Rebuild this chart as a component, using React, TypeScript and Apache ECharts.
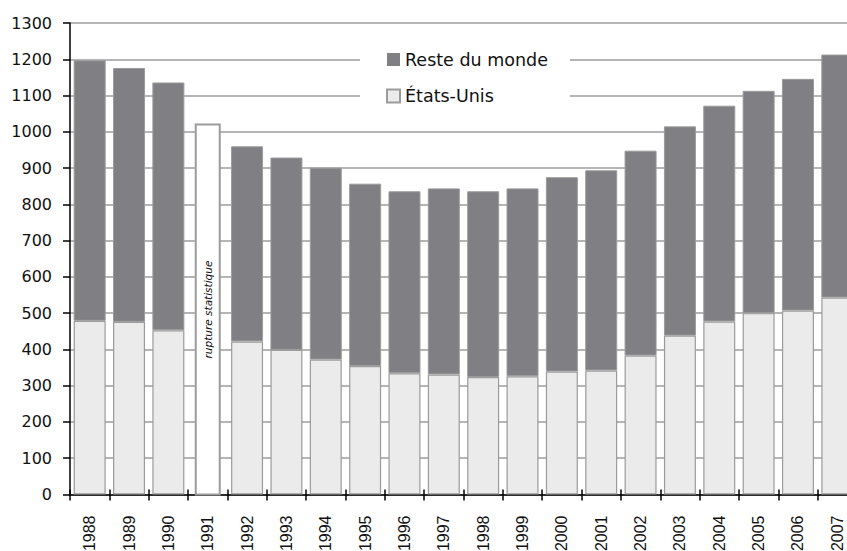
import React, { useEffect, useRef } from "react";
import * as echarts from "echarts";

const years = ["1988", "1989", "1990", "1991", "1992", "1993", "1994", "1995", "1996", "1997", "1998", "1999", "2000", "2001", "2002", "2003", "2004", "2005", "2006", "2007"];
const etatsUnis = [479, 476, 453, null, 422, 399, 372, 354, 334, 331, 324, 326, 339, 342, 383, 438, 477, 500, 507, 543];
const resteDuMonde = [718, 700, 683, null, 538, 530, 529, 503, 502, 513, 512, 518, 536, 552, 565, 577, 595, 613, 639, 670];
const ruptureYear = "1991";
const ruptureValue = 1020;
const ruptureLabel = "rupture statistique";
const seriesNames = ["Reste du monde", "États-Unis"];
const yMin = 0;
const yMax = 1300;
const yStep = 100;

export default function App() {
  const ref = useRef<HTMLDivElement>(null);
  useEffect(() => {
    const chart = echarts.init(ref.current!, null, { renderer: "svg" });
    const border = "#9b9b9b";
    chart.setOption({
      animation: false,
      backgroundColor: "#ffffff",
      grid: { left: 70, right: -10, top: 23, bottom: 56.5, outerBoundsMode: "none", containLabel: false },
      legend: {
        orient: "vertical",
        left: 360,
        top: 36.5,
        padding: [13, 22, 13, 26],
        backgroundColor: "#ffffff",
        icon: "rect",
        itemWidth: 13,
        itemHeight: 13,
        itemGap: 16.5,
        textStyle: { fontFamily: "DejaVu Sans", fontSize: 17.5, color: "#111", lineHeight: 20 },
        data: [
          { name: seriesNames[0], itemStyle: { borderWidth: 0 } },
          { name: seriesNames[1] },
        ],
      },
      xAxis: [
        {
          type: "category",
          data: years,
          position: "bottom",
          axisLine: { show: true, lineStyle: { color: "#000", width: 1.5 } },
          axisTick: { show: true, length: 6, lineStyle: { color: "#000", width: 1.5 } },
          axisLabel: { rotate: 90, margin: 21, fontFamily: "Liberation Sans", fontSize: 16, color: "#111" },
          splitLine: { show: false },
        },
        {
          type: "category",
          data: years,
          position: "bottom",
          axisLine: { show: false },
          axisTick: { show: true, inside: true, length: 5, lineStyle: { color: "#000", width: 1.5 } },
          axisLabel: { show: false },
          splitLine: { show: false },
        },
      ],
      yAxis: {
        type: "value",
        min: yMin,
        max: yMax,
        interval: yStep,
        axisLine: { show: true, lineStyle: { color: "#000", width: 1.5 } },
        axisTick: { show: true, length: 7, lineStyle: { color: "#000", width: 1.5 } },
        axisLabel: {
          margin: 18,
          fontFamily: "DejaVu Sans",
          fontSize: 16,
          color: "#111",
          formatter: (v: number) => String(v),
        },
        splitLine: { show: true, lineStyle: { color: "#9c9c9c", width: 1.5 } },
      },
      series: [
        {
          name: seriesNames[1],
          type: "bar",
          stack: "total",
          barWidth: 32,
          data: etatsUnis,
          itemStyle: { color: "#ebebeb", borderColor: border, borderWidth: 1.2 },
        },
        {
          name: seriesNames[0],
          type: "bar",
          stack: "total",
          barWidth: 32,
          data: resteDuMonde,
          itemStyle: { color: "#7f7f84", borderColor: border, borderWidth: 1 },
        },
        {
          type: "custom",
          name: "rupture",
          data: [[years.indexOf(ruptureYear), ruptureValue]],
          encode: { x: 0, y: 1 },
          renderItem: (params: any, api: any) => {
            const idx = api.value(0);
            const v = api.value(1);
            const base = api.coord([idx, 0]);
            const top = api.coord([idx, v]);
            const w = 24;
            return {
              type: "group",
              children: [
                {
                  type: "rect",
                  shape: { x: base[0] - w / 2, y: top[1], width: w, height: base[1] - top[1] },
                  style: { fill: "#ffffff", stroke: border, lineWidth: 2 },
                },
                {
                  type: "text",
                  x: base[0],
                  y: (base[1] + top[1]) / 2,
                  rotation: Math.PI / 2,
                  style: {
                    text: ruptureLabel,
                    fontFamily: "DejaVu Sans",
                    fontStyle: "italic",
                    fontSize: 10.5,
                    fill: "#111",
                    align: "center",
                    verticalAlign: "middle",
                  },
                },
              ],
            };
          },
        },
      ],
    });
    return () => chart.dispose();
  }, []);
  return (
    <div
      ref={ref}
      style={{ position: "fixed", left: 0, top: 0, width: 847, height: 551, background: "#fff" }}
    />
  );
}
